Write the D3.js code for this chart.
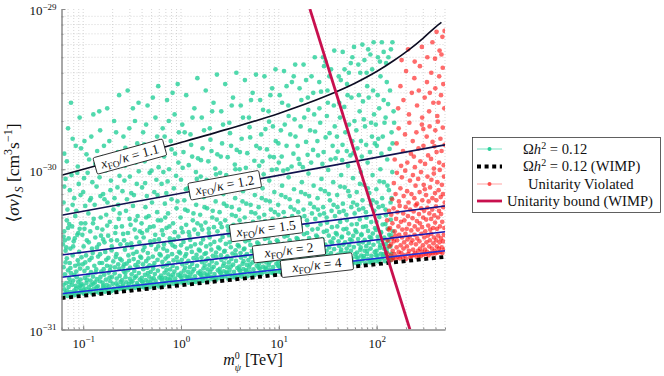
<!DOCTYPE html>
<html><head><meta charset="utf-8">
<script src="https://cdn.jsdelivr.net/npm/d3@7"></script>
<style>body{margin:0;background:#fff}svg{display:block}</style>
</head><body>
<svg id="chart" width="664" height="376"></svg>
<script>
// ---- tick labels ----
const xTicks = [0.1, 1, 10, 100];
const xTickExp = ["\u22121", "0", "1", "2"];
const yTicks = [1e-31, 1e-30, 1e-29];
const yTickExp = ["\u221231", "\u221230", "\u221229"];
const UNIT = 1e-31; // sigma-v values below are in units of 1e-31 cm^3 s^-1

// ---- curves [mass TeV, <sigma v>/1e-31] ----
const kappa11 = [[0.06,9.18],[0.3,12.0],[1,14.7],[3,17.8],[10,22.3],[30,28.5],[60,34.4],[100,40.7],[150,47.7],[220,56.4],[300,65.9],[400,77.2],[460,82.5]];
const kappa12 = [[0.06,5.17],[500,14.2]];
const kappa15 = [[0.06,2.92],[500,5.9]];
const kappa2  = [[0.06,2.12],[500,4.07]];
const kappa4  = [[0.06,1.67],[500,3.1]];
const wimpRelic = [[0.06,1.57],[500,2.84]];
const unitarityBound = [[20.8,100],[219,1]];
const labelNames = ["1.1","1.2","1.5","2","4"];
const labelMass = [0.3, 2.8, 7.4, 12.7, 24.5];

// ---- scatter: Omega h^2 = 0.12 ----
const greenPts = [
[0.062,1.63],[0.064,1.78],[0.066,1.69],[0.067,1.95],[0.069,1.62],[0.071,1.84],[0.072,2.08],[0.074,1.71],[0.076,1.66],[0.077,1.9],[0.079,2.02],[0.081,1.75],[0.082,1.64],[0.084,1.87],[0.086,2.12],[0.087,1.7],[0.089,1.98],[0.091,1.67],[0.092,1.82],[0.094,2.05],[0.095,1.74],[0.096,1.92],
[0.063,2.45],[0.065,2.21],[0.068,2.78],[0.07,2.34],[0.073,2.6],[0.075,2.25],[0.078,2.9],[0.083,2.5],[0.085,2.3],[0.088,2.7],[0.093,2.4],[0.096,2.82],
[0.062,3.4],[0.064,4.1],[0.066,3.1],[0.068,4.8],[0.071,3.7],[0.074,3.2],[0.077,4.4],[0.08,3.55],[0.083,5.1],[0.087,3.9],[0.091,3.05],[0.095,4.6],[0.065,3.6],[0.07,4.3],[0.079,3.3],[0.089,4.0],
[0.063,6.2],[0.066,8.7],[0.069,5.6],[0.073,7.4],[0.076,9.2],[0.081,6.6],[0.085,5.5],[0.09,8.1],[0.094,6.9],
[0.064,12.5],[0.07,18],[0.075,26],[0.084,14],[0.092,21],
[0.063,1.9],[0.068,1.74],[0.073,1.97],[0.08,1.68],[0.085,1.8],[0.093,1.88],[0.066,2.62],[0.074,2.42],[0.081,2.19],[0.09,2.55],[0.063,3.8],[0.067,3.25],[0.072,4.55],[0.082,3.7],[0.092,4.25],
[0.064,7.8],[0.078,6.0],[0.087,9.5],[0.068,11.2],[0.078,15.5],[0.088,10.4],[0.095,13.5],
[0.098,1.71],[0.1,1.88],[0.102,1.67],[0.104,2.1],[0.106,1.79],[0.108,1.95],[0.11,1.69],[0.112,2.18],[0.114,1.84],[0.117,1.73],[0.119,2.02],[0.121,1.9],[0.124,1.68],[0.126,2.14],[0.129,1.8],[0.132,1.97],[0.135,1.72],[0.138,2.06],[0.141,1.86],[0.144,1.7],[0.148,2.0],[0.152,1.77],
[0.099,2.55],[0.103,2.32],[0.107,2.9],[0.111,2.42],[0.116,2.71],[0.12,2.28],[0.125,3.0],[0.13,2.5],[0.136,2.37],[0.142,2.85],[0.147,2.6],[0.153,2.3],
[0.098,3.9],[0.101,3.3],[0.105,4.6],[0.109,3.6],[0.113,5.3],[0.118,4.1],[0.123,3.2],[0.128,4.9],[0.133,3.75],[0.139,4.3],[0.145,3.4],[0.151,5.0],
[0.1,7.2],[0.105,5.9],[0.111,9.5],[0.117,6.4],[0.124,8.3],[0.131,6.0],[0.137,7.8],[0.143,10.0],[0.15,6.8],
[0.103,15],[0.115,11.5],[0.127,22],[0.139,13],[0.149,17.5],
[0.101,1.77],[0.109,2.04],[0.118,1.76],[0.127,1.93],[0.137,1.83],[0.15,2.13],[0.105,2.62],[0.122,2.8],[0.134,2.27],[0.149,2.95],[0.103,4.25],[0.114,3.5],[0.126,4.6],[0.138,3.25],[0.152,3.85],
[0.102,8.8],[0.12,6.6],[0.147,8.9],[0.108,12.4],[0.121,16],[0.133,10.8],[0.146,23],
[0.155,1.74],[0.158,1.96],[0.161,1.83],[0.164,2.2],[0.167,1.72],[0.171,2.05],[0.174,1.9],[0.178,1.77],[0.182,2.26],[0.185,1.86],[0.189,2.0],[0.193,1.73],[0.197,2.13],[0.201,1.93],[0.206,1.8],[0.21,2.24],[0.215,1.75],[0.22,2.08],[0.225,1.88],[0.23,1.78],[0.236,2.16],[0.241,1.98],
[0.156,2.6],[0.162,2.38],[0.168,3.05],[0.175,2.5],[0.181,2.8],[0.188,2.35],[0.195,3.12],[0.203,2.66],[0.211,2.44],[0.219,2.95],[0.228,2.55],[0.238,2.76],
[0.157,4.2],[0.165,3.5],[0.172,5.2],[0.18,3.85],[0.187,4.7],[0.196,3.3],[0.204,5.6],[0.213,4.0],[0.222,3.6],[0.231,4.9],[0.24,3.4],
[0.16,7.0],[0.169,9.8],[0.177,6.2],[0.192,8.5],[0.2,10.7],[0.209,6.6],[0.224,7.7],[0.235,9.1],
[0.163,14],[0.176,24],[0.198,12],[0.217,17],[0.233,29],
[0.16,1.88],[0.172,1.8],[0.186,2.11],[0.2,1.76],[0.218,1.94],[0.238,1.83],[0.172,2.72],[0.19,2.47],[0.215,2.83],[0.234,2.4],[0.16,3.65],[0.176,4.45],[0.193,3.6],[0.216,4.35],[0.236,5.3],
[0.165,6.5],[0.19,7.4],[0.228,6.0],[0.158,11.9],[0.185,15],[0.207,20],[0.226,12.8],
[0.245,1.8],[0.25,2.03],[0.255,1.91],[0.26,2.3],[0.265,1.78],[0.271,2.12],[0.276,1.97],[0.282,1.84],[0.288,2.35],[0.294,1.93],[0.3,2.07],[0.306,1.79],[0.313,2.21],[0.319,2.0],[0.326,1.87],[0.333,2.32],[0.34,1.82],[0.347,2.15],[0.355,1.95],[0.363,1.85],[0.371,2.25],[0.379,2.05],
[0.247,2.7],[0.257,2.46],[0.267,3.15],[0.278,2.58],[0.29,2.9],[0.302,2.43],[0.315,3.25],[0.328,2.75],[0.342,2.52],[0.352,3.05],[0.366,2.63],[0.383,2.85],
[0.249,4.4],[0.262,3.6],[0.274,5.5],[0.286,4.0],[0.298,4.9],[0.31,3.45],[0.323,5.9],[0.336,4.2],[0.35,3.75],[0.36,5.1],[0.375,3.5],
[0.252,7.3],[0.268,10.5],[0.28,6.5],[0.3,9.0],[0.317,11.5],[0.33,6.9],[0.353,8.1],[0.37,9.7],
[0.258,16],[0.285,31],[0.309,13],[0.338,20],[0.368,26],
[0.253,1.85],[0.27,2.25],[0.292,1.82],[0.311,1.98],[0.336,2.1],[0.36,1.9],[0.262,2.55],[0.295,2.68],[0.325,2.97],[0.36,2.47],[0.256,3.95],[0.281,3.4],[0.305,4.5],[0.344,4.8],[0.38,4.1],
[0.264,8.5],[0.31,7.1],[0.345,11.0],[0.27,13.6],[0.296,18],[0.322,24],[0.357,14.5],
[0.39,1.85],[0.397,2.1],[0.404,1.97],[0.412,2.38],[0.42,1.83],[0.428,2.19],[0.436,2.03],[0.444,1.9],[0.453,2.43],[0.462,1.99],[0.471,2.14],[0.48,1.84],[0.49,2.29],[0.5,2.06],[0.51,1.93],[0.52,2.4],[0.53,1.87],[0.54,2.22],[0.55,2.01],[0.565,1.91],[0.58,2.33],[0.6,2.11],
[0.392,2.8],[0.408,2.55],[0.424,3.27],[0.44,2.67],[0.458,3.0],[0.475,2.51],[0.495,3.37],[0.515,2.85],[0.535,2.6],[0.555,3.16],[0.575,2.72],[0.605,2.95],
[0.395,4.6],[0.415,3.75],[0.433,5.8],[0.45,4.15],[0.468,5.1],[0.485,3.55],[0.505,6.2],[0.525,4.4],[0.545,3.9],[0.57,5.4],[0.595,3.65],
[0.4,7.7],[0.425,11.2],[0.447,6.8],[0.478,9.5],[0.508,12.3],[0.533,7.2],[0.56,8.6],[0.59,10.3],
[0.41,17],[0.455,25],[0.497,14],[0.548,21],[0.585,33],
[0.4,2.0],[0.425,1.88],[0.458,2.25],[0.485,1.96],[0.525,2.09],[0.59,1.86],[0.41,3.12],[0.465,2.78],[0.52,2.5],[0.585,3.3],[0.4,4.0],[0.44,5.0],[0.48,4.35],[0.535,3.6],[0.58,4.8],
[0.43,8.2],[0.5,9.8],[0.575,6.9],[0.42,14.3],[0.44,19],[0.515,28],[0.57,16],
[0.615,1.91],[0.627,2.17],[0.64,2.03],[0.652,2.47],[0.665,1.89],[0.678,2.26],[0.69,2.1],[0.703,1.96],[0.717,2.52],[0.73,2.06],[0.745,2.21],[0.76,1.9],[0.775,2.37],[0.79,2.13],[0.806,2.0],[0.822,2.49],[0.838,1.93],[0.855,2.3],[0.872,2.08],[0.89,1.98],[0.91,2.42],[0.935,2.19],
[0.62,2.9],[0.645,2.64],[0.67,3.4],[0.695,2.77],[0.72,3.1],[0.75,2.6],[0.78,3.5],[0.81,2.95],[0.84,2.7],[0.87,3.28],[0.905,2.82],[0.955,3.05],
[0.625,4.8],[0.655,3.9],[0.683,6.1],[0.71,4.3],[0.738,5.3],[0.768,3.7],[0.8,6.5],[0.83,4.6],[0.862,4.05],[0.9,5.7],[0.94,3.8],
[0.633,8.1],[0.672,12.0],[0.708,7.1],[0.755,10.0],[0.8,13.3],[0.845,7.6],[0.89,9.1],[0.94,11.0],
[0.65,18],[0.72,27],[0.785,15],[0.86,22],[0.925,34],
[0.635,2.09],[0.673,1.94],[0.71,2.35],[0.765,2.04],[0.83,2.2],[0.9,1.92],[0.66,3.2],[0.735,2.86],[0.82,3.35],[0.93,2.65],[0.64,4.15],[0.69,5.0],[0.76,4.4],[0.85,3.65],[0.92,6.3],
[0.66,9.6],[0.73,8.4],[0.87,12.5],[0.68,16],[0.75,20],[0.82,30],[0.95,17],
[0.975,1.97],[0.995,2.24],[1.01,2.1],[1.03,2.55],[1.05,1.95],[1.07,2.33],[1.09,2.17],[1.12,2.02],[1.14,2.6],[1.16,2.13],[1.18,2.29],[1.2,1.96],[1.23,2.45],[1.25,2.2],[1.28,2.06],[1.3,2.57],[1.33,1.99],[1.36,2.38],[1.39,2.15],[1.42,2.04],[1.46,2.5],[1.5,2.26],
[0.98,3.0],[1.02,2.72],[1.06,3.52],[1.1,2.86],[1.15,3.2],[1.19,2.68],[1.24,3.62],[1.29,3.05],[1.34,2.79],[1.39,3.4],[1.44,2.92],[1.52,3.15],
[0.99,5.0],[1.04,4.05],[1.08,6.4],[1.13,4.5],[1.17,5.5],[1.22,3.85],[1.27,6.9],[1.32,4.8],[1.37,4.2],[1.43,6.0],[1.49,3.95],
[1.0,8.6],[1.06,12.8],[1.12,7.5],[1.2,10.6],[1.27,14.2],[1.35,8.0],[1.42,9.6],[1.49,11.7],
[1.03,19],[1.13,29],[1.25,16.5],[1.37,24],[1.47,37],
[0.985,2.15],[1.04,2.01],[1.1,2.43],[1.19,2.11],[1.31,2.3],[1.41,1.98],[1.0,3.35],[1.13,2.96],[1.26,3.3],[1.46,2.75],[1.01,4.3],[1.1,5.6],[1.2,4.05],[1.34,5.3],[1.47,4.6],
[1.04,10.2],[1.17,7.6],[1.3,12.0],[1.45,8.7],[1.09,17],[1.31,21],
[1.55,2.03],[1.58,2.31],[1.61,2.17],[1.64,2.63],[1.67,2.01],[1.7,2.41],[1.73,2.24],[1.77,2.09],[1.8,2.69],[1.84,2.2],[1.87,2.37],[1.91,2.02],[1.95,2.53],[1.99,2.28],[2.03,2.13],[2.07,2.66],[2.11,2.06],[2.16,2.46],[2.2,2.22],[2.25,2.11],[2.31,2.59],[2.38,2.34],
[1.56,3.1],[1.62,2.81],[1.68,3.65],[1.74,2.96],[1.81,3.3],[1.88,2.77],[1.96,3.75],[2.04,3.15],[2.12,2.88],[2.19,3.52],[2.28,3.02],[2.4,3.25],
[1.57,5.2],[1.65,4.2],[1.71,6.7],[1.78,4.65],[1.85,5.7],[1.93,4.0],[2.01,7.3],[2.09,5.0],[2.17,4.35],[2.26,6.3],[2.36,4.1],
[1.59,9.0],[1.66,13.5],[1.76,7.9],[1.9,11.2],[2.0,15.3],[2.13,8.4],[2.24,10.1],[2.35,12.4],
[1.63,21],[1.79,31],[1.97,18],[2.15,26],[2.33,39],
[1.57,2.22],[1.65,2.09],[1.75,2.51],[1.89,2.17],[2.06,2.39],[2.27,2.04],[1.6,3.45],[1.8,3.0],[2.0,3.4],[2.3,2.83],[1.6,4.45],[1.74,5.8],[1.92,4.25],[2.11,5.5],[2.32,4.85],
[1.6,11.4],[1.83,8.6],[2.05,13.0],[2.28,9.3],[1.72,17.5],[2.08,23],
[2.45,2.09],[2.49,2.39],[2.54,2.24],[2.59,2.72],[2.64,2.07],[2.69,2.49],[2.74,2.31],[2.8,2.15],[2.85,2.78],[2.91,2.27],[2.96,2.45],[3.02,2.08],[3.08,2.62],[3.14,2.35],[3.2,2.2],[3.27,2.75],[3.34,2.12],[3.41,2.54],[3.48,2.29],[3.56,2.18],[3.65,2.68],[3.76,2.42],
[2.47,3.2],[2.56,2.9],[2.66,3.78],[2.76,3.06],[2.87,3.42],[2.98,2.86],[3.1,3.88],[3.23,3.26],[3.36,2.98],[3.47,3.64],[3.61,3.12],[3.8,3.36],
[2.48,5.4],[2.61,4.35],[2.71,7.0],[2.83,4.8],[2.93,5.9],[3.05,4.15],[3.18,7.7],[3.31,5.2],[3.44,4.5],[3.58,6.6],[3.73,4.25],
[2.51,9.5],[2.63,14.5],[2.78,8.3],[3.0,11.9],[3.17,16.8],[3.38,8.9],[3.55,10.7],[3.71,13.2],
[2.58,23],[2.83,34],[3.12,19.5],[3.4,28],[3.68,40],
[2.5,2.29],[2.62,2.16],[2.76,2.59],[2.97,2.24],[3.24,2.47],[3.58,2.11],[2.52,3.6],[2.8,3.1],[3.15,3.5],[3.62,2.92],[2.53,4.6],[2.74,6.1],[3.0,4.4],[3.3,5.8],[3.63,5.1],
[2.55,12.0],[2.9,9.2],[3.25,14.0],[3.6,10.0],[2.69,19],[3.3,25],
[3.88,2.16],[3.95,2.47],[4.02,2.32],[4.1,2.81],[4.18,2.14],[4.26,2.57],[4.34,2.38],[4.43,2.22],[4.52,2.87],[4.61,2.35],[4.7,2.53],[4.79,2.15],[4.88,2.71],[4.98,2.43],[5.08,2.27],[5.18,2.84],[5.29,2.19],[5.4,2.62],[5.51,2.37],[5.64,2.25],[5.78,2.77],[5.95,2.5],
[3.91,3.3],[4.06,3.0],[4.22,3.92],[4.38,3.16],[4.55,3.55],[4.72,2.96],[4.92,4.03],[5.12,3.37],[5.32,3.08],[5.5,3.78],[5.72,3.23],[6.02,3.48],
[3.93,5.6],[4.14,4.5],[4.3,7.3],[4.48,5.0],[4.65,6.1],[4.84,4.3],[5.04,8.1],[5.24,5.4],[5.45,4.7],[5.68,6.9],[5.9,4.4],
[3.98,10.0],[4.17,15.5],[4.41,8.8],[4.76,12.6],[5.02,18.3],[5.36,9.4],[5.62,11.3],[5.88,14.0],
[4.08,25],[4.5,36],[4.95,21],[5.4,30],[5.84,39],
[3.92,2.36],[4.13,2.22],[4.36,2.67],[4.68,2.31],[5.1,2.55],[5.6,2.18],[3.97,3.7],[4.45,3.2],[4.95,3.6],[5.6,3.02],[3.97,4.8],[4.25,6.3],[4.62,4.55],[5.15,6.0],[5.75,5.3],
[4.0,12.8],[4.6,10.2],[5.1,15.8],[5.7,9.0],[4.3,21],[5.2,27],
[6.15,2.23],[6.26,2.56],[6.38,2.4],[6.5,2.9],[6.62,2.21],[6.75,2.66],[6.88,2.46],[7.02,2.29],[7.16,2.97],[7.3,2.43],[7.45,2.62],[7.6,2.22],[7.75,2.8],[7.9,2.51],[8.06,2.35],[8.22,2.94],[8.38,2.26],[8.55,2.71],[8.73,2.45],[8.92,2.32],[9.15,2.86],[9.45,2.58],
[6.2,3.42],[6.44,3.1],[6.68,4.06],[6.94,3.27],[7.2,3.68],[7.48,3.06],[7.8,4.17],[8.12,3.49],[8.45,3.19],[8.72,3.91],[9.07,3.34],[9.55,3.6],
[6.22,5.8],[6.55,4.65],[6.82,7.6],[7.1,5.2],[7.38,6.4],[7.68,4.45],[7.98,8.5],[8.3,5.6],[8.62,4.9],[9.0,7.2],[9.4,4.55],
[6.3,10.5],[6.6,16.5],[7.0,9.3],[7.55,13.3],[7.95,19.8],[8.5,9.9],[8.9,11.9],[9.3,15.0],
[6.45,27],[7.13,38],[7.85,23],[8.55,32],[9.25,42],
[6.2,2.43],[6.5,2.28],[6.9,2.76],[7.4,2.38],[8.0,2.63],[8.8,2.24],[6.3,3.83],[7.0,3.3],[7.8,3.72],[8.9,3.13],[6.28,5.0],[6.7,6.6],[7.25,4.75],[8.1,6.3],[9.1,5.4],
[6.4,13.5],[6.8,11.2],[7.3,17.8],[8.1,12.0],[8.7,18.5],[9.5,10.0],[6.9,23.5],[8.2,29],
[9.75,2.3],[9.93,2.64],[10.1,2.47],[10.3,3.0],[10.5,2.28],[10.7,2.75],[10.9,2.54],[11.1,2.36],[11.3,3.07],[11.6,2.51],[11.8,2.71],[12.0,2.29],[12.3,2.9],[12.5,2.59],[12.8,2.42],[13.0,3.04],[13.3,2.33],[13.5,2.8],[13.8,2.53],[14.1,2.39],[14.5,2.96],[15.0,2.67],
[9.8,3.54],[10.2,3.2],[10.6,4.2],[11.0,3.38],[11.4,3.8],[11.9,3.16],[12.4,4.32],[12.9,3.6],[13.4,3.3],[13.9,4.05],[14.4,3.45],[15.2,3.72],
[9.85,6.0],[10.4,4.8],[10.8,7.9],[11.2,5.4],[11.7,6.7],[12.2,4.6],[12.6,8.9],[13.2,5.8],[13.7,5.1],[14.3,7.5],[14.9,4.7],
[10.0,11.0],[10.5,17.5],[11.1,9.8],[12.0,14.0],[12.6,21.5],[13.5,10.4],[14.1,12.5],[14.8,16.0],
[10.2,29],[11.3,41],[12.5,25],[13.6,35],[14.7,45],
[9.8,2.5],[10.3,2.35],[10.9,2.85],[11.7,2.45],[12.7,2.72],[13.9,2.32],[9.95,3.95],[11.1,3.42],[12.3,3.85],[14.0,3.25],[9.9,5.2],[10.6,6.9],[11.5,4.95],[12.9,6.5],[14.4,5.6],
[9.9,14.5],[10.7,12.0],[11.5,19.0],[12.3,10.0],[13.1,16.5],[14.5,20.5],[10.8,26],[12.0,33],[14.2,38],
[15.5,2.37],[15.8,2.73],[16.1,2.55],[16.4,3.1],[16.7,2.35],[17.0,2.84],[17.3,2.62],[17.6,2.44],[18.0,3.17],[18.3,2.6],[18.7,2.8],[19.0,2.36],[19.4,3.0],[19.8,2.67],[20.3,2.5],[20.7,3.14],[21.1,2.4],[21.5,2.9],[22.0,2.61],[22.5,2.47],[23.1,3.06],[23.8,2.76],
[15.6,3.66],[16.2,3.31],[16.8,4.36],[17.4,3.5],[18.1,3.93],[18.8,3.27],[19.6,4.48],[20.4,3.72],[21.3,3.41],[22.0,4.2],[22.8,3.58],[24.1,3.86],
[15.7,6.3],[16.5,5.0],[17.2,8.3],[17.9,5.6],[18.6,7.0],[19.4,4.8],[20.1,9.4],[21.0,6.1],[21.8,5.3],[22.7,7.9],[23.6,4.9],
[15.9,11.6],[16.7,18.5],[17.6,10.3],[19.0,14.8],[20.0,23.5],[21.4,11.0],[22.4,13.2],[23.5,17.2],
[16.3,32],[17.9,45],[19.8,28],[21.6,38],[23.3,50],
[15.6,2.57],[16.3,2.42],[17.3,2.95],[18.5,2.52],[20.2,2.81],[22.2,2.39],[15.8,4.1],[17.6,3.55],[19.5,4.0],[22.2,3.37],[15.8,5.4],[16.9,7.2],[18.3,5.1],[20.4,6.8],[22.9,5.8],
[15.6,14.0],[16.3,10.8],[18.2,21.0],[19.7,12.3],[20.9,17.5],[23.0,22.0],[17.0,27],[19.0,36],[22.5,30],
[24.5,2.45],[25.0,2.83],[25.5,2.64],[26.0,3.21],[26.5,2.43],[27.0,2.94],[27.5,2.71],[28.0,2.52],[28.6,3.28],[29.1,2.69],[29.7,2.9],[30.2,2.44],[30.8,3.1],[31.4,2.77],[32.1,2.58],[32.8,3.25],[33.5,2.48],[34.2,3.0],[35.0,2.7],[35.8,2.55],[36.8,3.17],[37.9,2.86],
[24.7,3.79],[25.7,3.43],[26.7,4.52],[27.7,3.62],[28.8,4.07],[29.9,3.39],[31.1,4.64],[32.4,3.85],[33.7,3.53],[34.9,4.35],[36.2,3.71],[38.2,4.0],
[24.9,6.6],[26.2,5.2],[27.3,8.7],[28.4,5.8],[29.6,7.3],[30.8,5.0],[32.0,9.9],[33.3,6.4],[34.6,5.5],[36.0,8.3],[37.5,5.1],
[25.2,12.2],[26.5,19.5],[27.9,10.8],[30.1,15.8],[31.7,26.0],[33.9,11.5],[35.5,14.0],[37.3,18.5],
[25.9,35],[28.3,50],[31.4,31],[34.2,42],[36.9,55],[30.0,47],
[24.7,2.65],[25.8,2.49],[27.4,3.05],[29.4,2.6],[32.0,2.9],[35.3,2.47],[25.0,4.25],[27.9,3.67],[31.0,4.13],[35.1,3.48],[25.1,5.6],[26.8,7.5],[29.0,5.3],[32.4,7.0],[36.3,6.0],
[24.8,15.0],[26.0,24.0],[28.7,12.8],[31.0,21.5],[33.0,16.8],[36.5,25.0],[38.0,11.7],[27.0,30.5],[32.8,38],[29.0,44],
[38.9,2.52],[39.7,2.92],[40.5,2.72],[41.3,3.32],[42.1,2.5],[43.0,3.04],[43.8,2.8],[44.7,2.6],[45.6,3.39],[46.5,2.78],[47.5,3.0],[48.4,2.51],[49.4,3.2],[50.4,2.86],[51.5,2.66],[52.5,3.36],[53.6,2.55],[54.7,3.1],[55.8,2.79],[57.0,2.63],[58.5,3.27],[60.3,2.95],
[39.2,3.92],[40.8,3.55],[42.4,4.69],[44.0,3.75],[45.8,4.22],[47.6,3.5],[49.6,4.82],[51.5,3.98],[53.5,3.65],[55.5,4.52],[57.6,3.84],[60.7,4.15],
[39.5,6.9],[41.6,5.4],[43.4,9.2],[45.2,6.1],[47.1,7.7],[49.0,5.2],[51.0,10.5],[53.0,6.8],[55.1,5.8],[57.3,8.8],[59.6,5.3],
[40.0,12.9],[42.2,21],[44.4,11.4],[47.9,17.0],[50.5,29],[53.9,12.2],[56.5,15.0],[59.3,20.0],
[41.0,38],[45.0,54],[49.8,34],[54.4,46],[58.7,58],[47.0,42],
[39.1,2.73],[40.9,2.57],[43.4,3.15],[46.6,2.69],[50.7,3.0],[56.0,2.54],[39.6,4.4],[44.2,3.8],[49.2,4.25],[55.6,3.6],[39.8,5.8],[42.5,7.8],[46.0,5.5],[51.3,7.3],[57.5,6.2],
[39.3,16.0],[41.5,26.0],[44.8,14.2],[46.7,24.5],[49.5,13.0],[52.3,19.0],[55.3,28.0],[58.0,12.6],[43.0,36],[52.0,40],[56.5,50],
[61.7,2.6],[63.0,3.02],[64.2,2.81],[65.5,3.43],[66.8,2.58],[68.1,3.14],[69.5,2.89],[70.9,2.69],[72.3,3.5],[73.8,2.87],[75.3,3.1],[76.8,2.59],[78.3,3.31],[79.9,2.95],[81.6,2.75],[83.3,3.47],[85.0,2.63],[86.7,3.2],[88.5,2.88],[90.4,2.72],[92.8,3.38],[95.6,3.05],
[62.1,4.05],[64.7,3.67],[67.2,4.86],[69.8,3.88],[72.6,4.37],[75.5,3.62],[78.6,4.99],[81.7,4.12],[84.9,3.78],[88.0,4.68],[91.4,3.97],[96.3,4.3],
[62.6,7.2],[66.0,5.6],[68.8,9.6],[71.7,6.4],[74.7,8.0],[77.7,5.4],[80.9,11.0],[84.1,7.1],[87.4,6.0],[90.9,9.2],[94.5,5.5],
[63.5,13.5],[67.0,23],[70.5,12.0],[76.0,18.5],[80.1,33],[85.5,12.8],[89.6,16.0],[94.1,22],
[65.0,45],[71.5,60],[79.0,40],[86.3,52],[93.1,62],
[62.0,2.82],[65.0,2.66],[68.8,3.25],[73.9,2.78],[80.4,3.1],[88.8,2.62],[62.8,4.55],[70.0,3.93],[77.9,4.4],[88.1,3.72],[63.1,6.0],[67.4,8.1],[72.9,5.7],[81.3,7.6],[91.2,6.4],
[62.0,17.5],[65.8,29.0],[69.2,15.0],[72.5,26.5],[74.0,20.5],[78.2,14.2],[83.0,28.0],[87.8,19.5],[92.0,31.0],[96.0,14.5],[68.0,40],[75.0,48],[82.0,56],[90.0,42],
[97.8,2.67],[99.8,3.1],[101.8,2.89],[103.9,3.54],[106,2.65],[108,3.23],[110.3,2.97],[112.5,2.77],[114.8,3.61],[117,2.95],[119.5,3.19],[122,2.67],[124.5,3.41],[127,3.04],[129.5,2.83],[132,3.58],[135,2.71],[138,3.3],[141,2.97],[145,2.8],
[98.5,4.18],[102.6,3.79],[106.6,5.03],[110.8,4.01],[115.2,4.52],[119.8,3.74],[124.6,5.17],[129.6,4.26],[134.5,3.9],[139.5,4.84],[146,4.1],
[99.3,7.5],[104.7,5.8],[109.2,10.0],[113.8,6.6],[118.5,8.3],[123.3,5.6],[128.3,11.5],[133.4,7.4],[138.8,6.2],[144.5,9.6],
[100.5,14.0],[106.2,24],[111.9,12.5],[120.4,19.5],[127,35],[135.6,13.4],[142.1,17.0],[149,23],
[103,50],[113,62],[125,46],[140,56],
[98.2,2.91],[103,2.74],[109,3.36],[117,2.86],[127,3.2],[140,2.71],[99.5,4.7],[111,4.06],[123,4.55],[140,3.85],[100,6.2],[107,8.4],[115.5,5.9],[129,7.9],[142,6.6],
[98.0,19.0],[102.5,29.0],[104.0,15.5],[109.5,38.0],[115.5,16.0],[118.0,27.0],[123.5,21.0],[131.0,25.5],[137.0,31.0],[145.5,14.5],[151.0,19.5],[108,47],[118,54],[132,50],[145,62]
];

// ---- scatter: Unitarity violated ----
const redPts = [
[126,3.0],[129,3.6],[131,2.8],[133,4.2],[135,3.3],[128,4.8],[134,5.5],
[138,2.9],[140,3.4],[142,2.72],[144,3.7],[146,3.1],[148,2.8],[150,3.55],[152,2.95],[155,3.85],[157,2.74],[160,3.25],[162,3.6],[165,2.85],[168,3.05],[170,3.9],[173,2.78],[176,3.35],[179,3.0],[182,3.75],[185,2.82],[188,3.2],[191,3.5],[194,2.9],[197,3.95],[200,2.76],[204,3.3],[207,3.65],[211,2.95],[214,3.1],[218,3.8],[221,2.8],[225,3.45],[228,2.88],[232,3.6],[236,3.15],[240,2.92],[244,3.9],[248,3.0],[252,3.4],[256,2.84],[260,3.7],[265,3.1],[269,2.9],[274,3.55],[278,3.2],[283,2.87],[287,3.95],[292,3.05],[297,3.35],[302,2.93],[307,3.75],[312,3.15],[317,2.96],[323,3.5],[328,3.05],[334,3.85],[339,2.9],[345,3.3],[350,3.6],[356,3.0],[362,3.95],[368,3.2],[374,2.98],[380,3.45],[386,3.75],[393,3.1],[399,2.99],[406,3.6],[412,3.3],[419,3.02],[426,3.85],[433,3.2],[440,3.5],[448,3.05],[455,3.7],[463,3.25],[470,3.0],[478,3.55],[486,3.9],[494,3.15],
[137,4.3],[141,5.2],[145,4.6],[149,5.7],[153,4.1],[158,4.9],[163,5.4],[167,4.4],[172,5.9],[177,4.7],[183,4.2],[187,5.3],[192,4.8],[198,5.8],[203,4.25],[209,5.1],[215,4.55],[220,5.6],[226,4.15],[233,4.95],[239,5.45],[245,4.4],[251,5.95],[258,4.75],[264,4.2],[271,5.25],[277,4.6],[285,5.7],[291,4.35],[299,5.0],[306,5.5],[314,4.1],[321,4.85],[330,5.75],[337,4.45],[346,5.3],[353,4.2],[361,4.9],[370,5.6],[378,4.3],[388,5.15],[396,4.65],[405,5.85],[414,4.25],[424,5.0],[434,5.5],[444,4.4],[456,5.25],[468,4.7],[480,5.8],[492,4.3],
[144,6.5],[150,8.2],[156,7.0],[161,9.5],[169,6.3],[175,7.6],[181,8.9],[189,6.8],[196,9.8],[205,7.3],[212,6.2],[219,8.5],[227,7.0],[235,9.2],[243,6.6],[250,7.9],[259,6.1],[266,8.7],[275,7.2],[284,9.6],[293,6.4],[303,8.0],[311,7.5],[320,6.9],[331,9.0],[340,6.3],[352,7.7],[363,8.6],[372,6.6],[384,9.4],[395,7.1],[408,6.4],[418,8.3],[430,7.4],[442,9.9],[452,6.7],[465,8.0],[476,7.0],[488,9.0],[497,6.2],
[153,11.5],[160,14.5],[168,18],[178,10.5],[186,13],[195,16.5],[206,11],[216,19.5],[224,12.5],[234,15],[246,10.3],[255,17],[268,13.5],[280,11.2],[290,19],[301,14],[313,10.8],[325,16],[336,12.2],[348,18.5],[360,11.6],[373,14.8],[385,10.1],[398,17.5],[410,12.8],[422,19.8],[436,11.0],[449,15.5],[461,13.0],[474,18.2],[485,10.6],[496,14.2],[240,12.0],[300,17.8],[390,13.9],
[166,24],[175,33],[188,27],[200,41],[214,22],[229,30],[243,37],[259,25],[277,44],[292,21],[310,28],[327,35],[344,23],[362,40],[380,26],[398,32],[417,21.5],[436,38],[455,29],[474,43],[492,24],[270,31],[350,30],[430,26],[480,34],
[180,48],[210,56],[245,47],[290,58],[330,50],[372,62],[410,72],[440,55],[470,67],[495,73],[395,49],[460,52]
];

// ================= drawing =================
const W = 664, H = 376;
const X0 = 61.5, X1 = 445, Y0 = 9, Y1 = 329.5;
const FONT = "'Liberation Serif', 'DejaVu Serif', serif";
const svg = d3.select("#chart").attr("font-family", FONT);
svg.append("rect").attr("width", W).attr("height", H).attr("fill", "#fff");

const x = d3.scaleLog().domain([0.06, 500]).range([X0, X1]);
const y = d3.scaleLog().domain([1e-31, 1e-29]).range([Y1, Y0]);

svg.append("defs").append("clipPath").attr("id", "plotclip")
  .append("rect").attr("x", X0).attr("y", Y0).attr("width", X1 - X0).attr("height", Y1 - Y0);

// grid
const grid = svg.append("g").attr("stroke", "#c4c4c4").attr("stroke-width", 0.7).attr("stroke-dasharray", "1,2");
x.ticks().filter(v => x(v) > X0 + 1).forEach(v => grid.append("line").attr("x1", x(v)).attr("x2", x(v)).attr("y1", Y0).attr("y2", Y1));
y.ticks().filter(v => y(v) < Y1 - 1).forEach(v => grid.append("line").attr("x1", X0).attr("x2", X1).attr("y1", y(v)).attr("y2", y(v)));

const plot = svg.append("g").attr("clip-path", "url(#plotclip)");

// scatter
plot.append("g").selectAll("circle").data(greenPts).join("circle")
  .attr("cx", d => x(d[0])).attr("cy", d => y(d[1] * UNIT)).attr("r", 2.35)
  .attr("fill", "#2bd19b").attr("fill-opacity", 0.82);
plot.append("g").selectAll("circle").data(redPts).join("circle")
  .attr("cx", d => x(d[0])).attr("cy", d => y(d[1] * UNIT)).attr("r", 2.35)
  .attr("fill", "#ff0a0a").attr("fill-opacity", 0.6);

// curves
const lineGen = d3.line().x(d => x(d[0])).y(d => y(d[1] * UNIT));
const curveGen = d3.line().x(d => x(d[0])).y(d => y(d[1] * UNIT)).curve(d3.curveMonotoneX);
const kappaSets = [kappa11, kappa12, kappa15, kappa2, kappa4];
const kappaColors = ["#0c0c22", "#10104c", "#12128a", "#1515b2", "#1c30dc"];
plot.append("path").datum(wimpRelic).attr("d", lineGen).attr("fill", "none")
  .attr("stroke", "#000").attr("stroke-width", 3.8).attr("stroke-dasharray", "4,3.6");
kappaSets.forEach((pts, i) => {
  plot.append("path").datum(pts).attr("d", i === 0 ? curveGen : lineGen).attr("fill", "none")
    .attr("stroke", kappaColors[i]).attr("stroke-width", 1.6);
});
plot.append("path").datum(unitarityBound).attr("d", lineGen).attr("fill", "none")
  .attr("stroke", "#c8104e").attr("stroke-width", 2.8);

// labels on curves
function interpLog(pts, m) {
  const lm = Math.log10(m);
  for (let i = 0; i < pts.length - 1; i++) {
    const a = Math.log10(pts[i][0]), b = Math.log10(pts[i + 1][0]);
    if (lm >= a && lm <= b) {
      const t = (lm - a) / (b - a);
      return Math.pow(10, Math.log10(pts[i][1]) + t * (Math.log10(pts[i + 1][1]) - Math.log10(pts[i][1])));
    }
  }
  return pts[pts.length - 1][1];
}
kappaSets.forEach((pts, i) => {
  const m = labelMass[i];
  const cx = x(m), cy = y(interpLog(pts, m) * UNIT);
  const xa = x(m / 1.25), ya = y(interpLog(pts, m / 1.25) * UNIT);
  const xb = x(m * 1.25), yb = y(interpLog(pts, m * 1.25) * UNIT);
  const ang = Math.atan2(yb - ya, xb - xa) * 180 / Math.PI;
  const g = svg.append("g").attr("transform", `translate(${cx},${cy}) rotate(${ang})`);
  g.append("rect").attr("x", -36).attr("y", -8.5).attr("width", 72).attr("height", 17).attr("rx", 1.5)
    .attr("fill", "#fff").attr("stroke", "#111").attr("stroke-width", 0.8);
  const t = g.append("text").attr("text-anchor", "middle").attr("y", 4.3).attr("font-size", 13.5).attr("fill", "#111");
  t.append("tspan").attr("font-style", "italic").text("x");
  t.append("tspan").attr("font-size", 9.5).attr("dy", 2.5).text("FO");
  t.append("tspan").attr("dy", -2.5).text("/");
  t.append("tspan").attr("font-style", "italic").text("\u03BA");
  t.append("tspan").text(" = " + labelNames[i]);
});

// axes
const axisColor = "#8a8a8a";
function styleAxis(g) {
  g.select(".domain").attr("stroke", axisColor);
  g.selectAll(".tick line").attr("stroke", axisColor);
}
const gxMinor = svg.append("g").attr("transform", `translate(0,${Y1})`)
  .call(d3.axisBottom(x).tickValues(x.ticks()).tickSize(-2).tickSizeOuter(0).tickFormat(""));
styleAxis(gxMinor);
const gx = svg.append("g").attr("transform", `translate(0,${Y1})`)
  .call(d3.axisBottom(x).tickValues(xTicks).tickSize(-4).tickSizeOuter(0).tickPadding(6).tickFormat(""));
styleAxis(gx);
gx.attr("font-family", FONT).attr("font-size", 13);
gx.selectAll(".tick text").each(function (d, i) {
  const t = d3.select(this).attr("fill", "#111").attr("dy", "0.95em");
  t.append("tspan").text("10");
  t.append("tspan").attr("font-size", 9).attr("dy", -5.5).text(xTickExp[i]);
});
const gyMinor = svg.append("g").attr("transform", `translate(${X0},0)`)
  .call(d3.axisLeft(y).tickValues(y.ticks()).tickSize(-2).tickSizeOuter(0).tickFormat(""));
styleAxis(gyMinor);
const gy = svg.append("g").attr("transform", `translate(${X0},0)`)
  .call(d3.axisLeft(y).tickValues(yTicks).tickSize(-4).tickSizeOuter(0).tickPadding(5).tickFormat(""));
styleAxis(gy);
gy.attr("font-family", FONT).attr("font-size", 13);
gy.selectAll(".tick text").each(function (d, i) {
  const t = d3.select(this).attr("fill", "#111").attr("dy", "0.45em");
  t.append("tspan").text("10");
  t.append("tspan").attr("font-size", 9).attr("dy", -5.5).text(yTickExp[i]);
});

// axis titles
const xt = svg.append("text").attr("x", 253).attr("y", 365).attr("text-anchor", "middle").attr("font-size", 16).attr("fill", "#111");
xt.append("tspan").attr("font-style", "italic").text("m");
xt.append("tspan").attr("font-size", 10).attr("dy", -6.5).text("0");
xt.append("tspan").attr("font-size", 10).attr("font-style", "italic").attr("dx", -5).attr("dy", 12).text("\u03C8");
xt.append("tspan").attr("dy", -5.5).text("  [TeV]");

const yt = svg.append("text").attr("transform", "translate(19,173) rotate(-90)").attr("text-anchor", "middle").attr("font-size", 17.5).attr("fill", "#111");
yt.append("tspan").text("\u27E8");
yt.append("tspan").attr("font-style", "italic").text("\u03C3v");
yt.append("tspan").text("\u27E9");
yt.append("tspan").attr("font-size", 12).attr("font-style", "italic").attr("dy", 4).text("S");
yt.append("tspan").attr("dy", -4).text("  [cm");
yt.append("tspan").attr("font-size", 12).attr("dy", -7).text("3");
yt.append("tspan").attr("dy", 7).text("s");
yt.append("tspan").attr("font-size", 12).attr("dy", -7).text("\u22121");
yt.append("tspan").attr("dy", 7).text("]");

// legend
const lg = svg.append("g").attr("font-size", 14.6).attr("fill", "#111");
lg.append("rect").attr("x", 472.5).attr("y", 137.5).attr("width", 188).attr("height", 75)
  .attr("fill", "#fff").attr("stroke", "#3a3a3a").attr("stroke-width", 0.8);
const rows = [149, 166.5, 184, 201];
lg.append("line").attr("x1", 477).attr("x2", 502).attr("y1", rows[0]).attr("y2", rows[0]).attr("stroke", "#8fe8cd").attr("stroke-width", 1.2);
lg.append("circle").attr("cx", 489.5).attr("cy", rows[0]).attr("r", 2).attr("fill", "#2bd19b");
lg.append("line").attr("x1", 477).attr("x2", 502).attr("y1", rows[1]).attr("y2", rows[1]).attr("stroke", "#000").attr("stroke-width", 3.8).attr("stroke-dasharray", "4,3.6");
lg.append("line").attr("x1", 477).attr("x2", 502).attr("y1", rows[2]).attr("y2", rows[2]).attr("stroke", "#ffb3b3").attr("stroke-width", 1.2);
lg.append("circle").attr("cx", 489.5).attr("cy", rows[2]).attr("r", 2).attr("fill", "#ff5050");
lg.append("line").attr("x1", 477).attr("x2", 502).attr("y1", rows[3]).attr("y2", rows[3]).attr("stroke", "#c8104e").attr("stroke-width", 2.8);
function omegaText(t, extra) {
  t.append("tspan").text("\u03A9");
  t.append("tspan").attr("font-style", "italic").text("h");
  t.append("tspan").attr("font-size", 10).attr("dy", -5).text("2");
  t.append("tspan").attr("dy", 5).text(" = 0.12" + extra);
}
omegaText(lg.append("text").attr("x", 523).attr("y", rows[0] + 4.5), "");
omegaText(lg.append("text").attr("x", 523).attr("y", rows[1] + 4.5), " (WIMP)");
lg.append("text").attr("x", 528).attr("y", rows[2] + 4.5).text("Unitarity Violated");
lg.append("text").attr("x", 507).attr("y", rows[3] + 4.5).text("Unitarity bound (WIMP)");
</script>
</body></html>
